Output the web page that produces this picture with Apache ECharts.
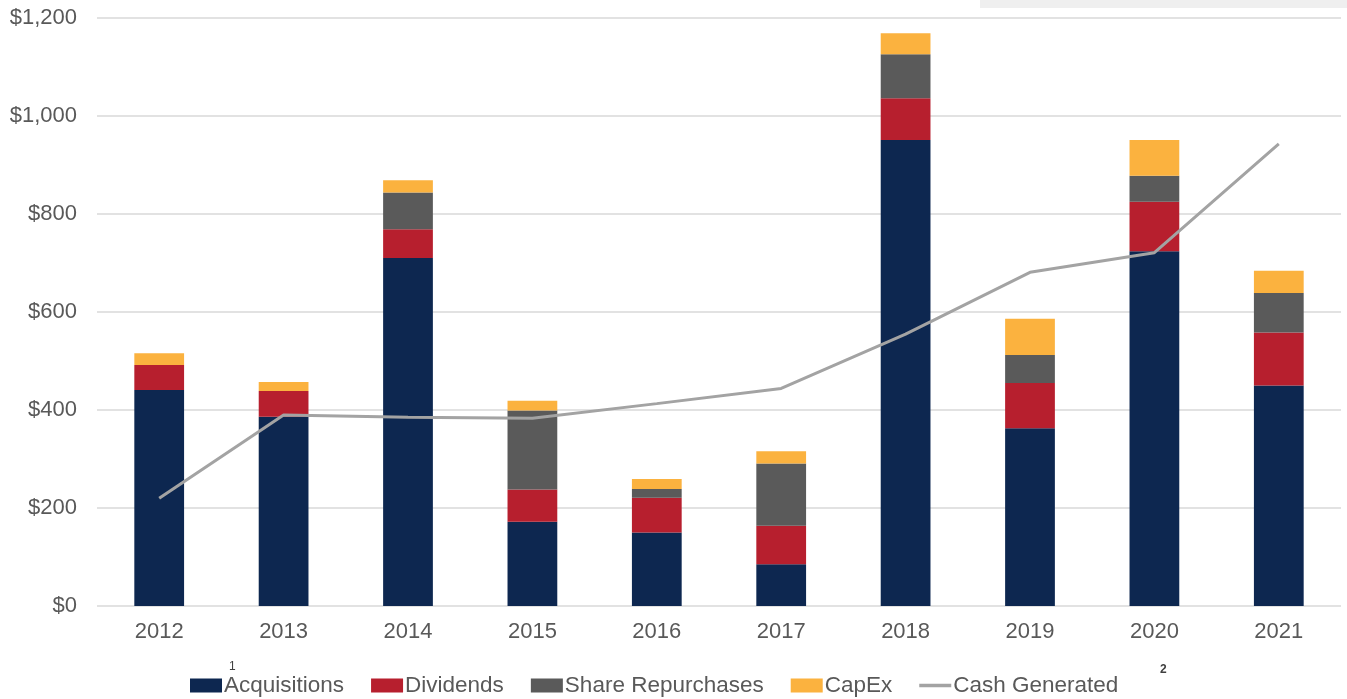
<!DOCTYPE html>
<html>
<head>
<meta charset="utf-8">
<script src="https://cdn.jsdelivr.net/npm/echarts@6/dist/echarts.min.js"></script>
<style>
  html, body { margin: 0; padding: 0; background: #ffffff; }
  #chart { width: 1347px; height: 699px; }
</style>
</head>
<body>
<div id="chart"></div>
<script>
// Capital deployment by year ($ millions)
const years = ['2012', '2013', '2014', '2015', '2016', '2017', '2018', '2019', '2020', '2021'];
const acquisitions = [441, 386, 710, 172, 150, 85, 951, 363, 724, 450];
const dividends = [51, 53, 59, 66, 71, 79, 85, 92, 101, 108];
const shareRepurchases = [0, 0, 75, 161, 18, 127, 90, 57, 53, 81];
const capEx = [24, 18, 25, 20, 20, 25, 43, 74, 73, 45];
const cashGenerated = [220, 390, 385, 383, 413, 444, 555, 681, 721, 943];
const yTicks = [0, 200, 400, 600, 800, 1000, 1200];

const FONT = '"Liberation Sans", Arial, sans-serif';
const TEXT = '#595959';

const chart = echarts.init(document.getElementById('chart'));

function barSeries(name, data, color) {
  return {
    name: name,
    type: 'bar',
    stack: 'uses',
    data: data,
    barWidth: '40%',
    itemStyle: { color: color },
    emphasis: { disabled: true }
  };
}

chart.setOption({
  animation: false,
  grid: { left: 97, right: 6, top: 18, bottom: 93, containLabel: false },
  legend: {
    left: 185,
    top: 669,
    itemWidth: 32,
    itemHeight: 14,
    itemGap: 27,
    textStyle: { fontFamily: FONT, fontSize: 22.5, color: TEXT, padding: [0, 0, 0, -3] },
    data: [
      { name: 'Acquisitions', icon: 'rect' },
      { name: 'Dividends', icon: 'rect' },
      { name: 'Share Repurchases', icon: 'rect' },
      { name: 'CapEx', icon: 'rect' },
      { name: 'Cash Generated', icon: 'path://M0,0H28V3H0Z' }
    ]
  },
  xAxis: {
    type: 'category',
    data: years,
    axisLine: { show: false },
    axisTick: { show: false },
    axisLabel: { fontFamily: FONT, fontSize: 22, color: TEXT, margin: 15 }
  },
  yAxis: {
    type: 'value',
    min: yTicks[0],
    max: yTicks[yTicks.length - 1],
    interval: yTicks[1] - yTicks[0],
    axisLine: { show: false },
    axisTick: { show: false },
    splitLine: { lineStyle: { color: '#d9d9d9', width: 1.5 } },
    axisLabel: {
      fontFamily: FONT, fontSize: 22, color: TEXT, margin: 20,
      formatter: v => '$' + v.toLocaleString('en-US')
    }
  },
  series: [
    barSeries('Acquisitions', acquisitions, '#0d2750'),
    barSeries('Dividends', dividends, '#b71f2e'),
    barSeries('Share Repurchases', shareRepurchases, '#5a5a5a'),
    barSeries('CapEx', capEx, '#fbb23f'),
    {
      name: 'Cash Generated',
      type: 'line',
      data: cashGenerated,
      symbol: 'none',
      lineStyle: { color: '#a3a3a3', width: 3 },
      itemStyle: { color: '#a3a3a3' },
      z: 5,
      emphasis: { disabled: true }
    }
  ],
  graphic: [
    {
      type: 'rect',
      shape: { x: 980, y: 0, width: 367, height: 8 },
      style: { fill: '#efefef' },
      silent: true
    },
    {
      type: 'text',
      left: 229, top: 661,
      style: { text: '1', fontFamily: FONT, fontSize: 12, fill: '#404040' }
    },
    {
      type: 'text',
      left: 1160, top: 664,
      style: { text: '2', fontFamily: FONT, fontSize: 12, fontWeight: 'bold', fill: '#404040' }
    }
  ]
});
</script>
</body>
</html>
